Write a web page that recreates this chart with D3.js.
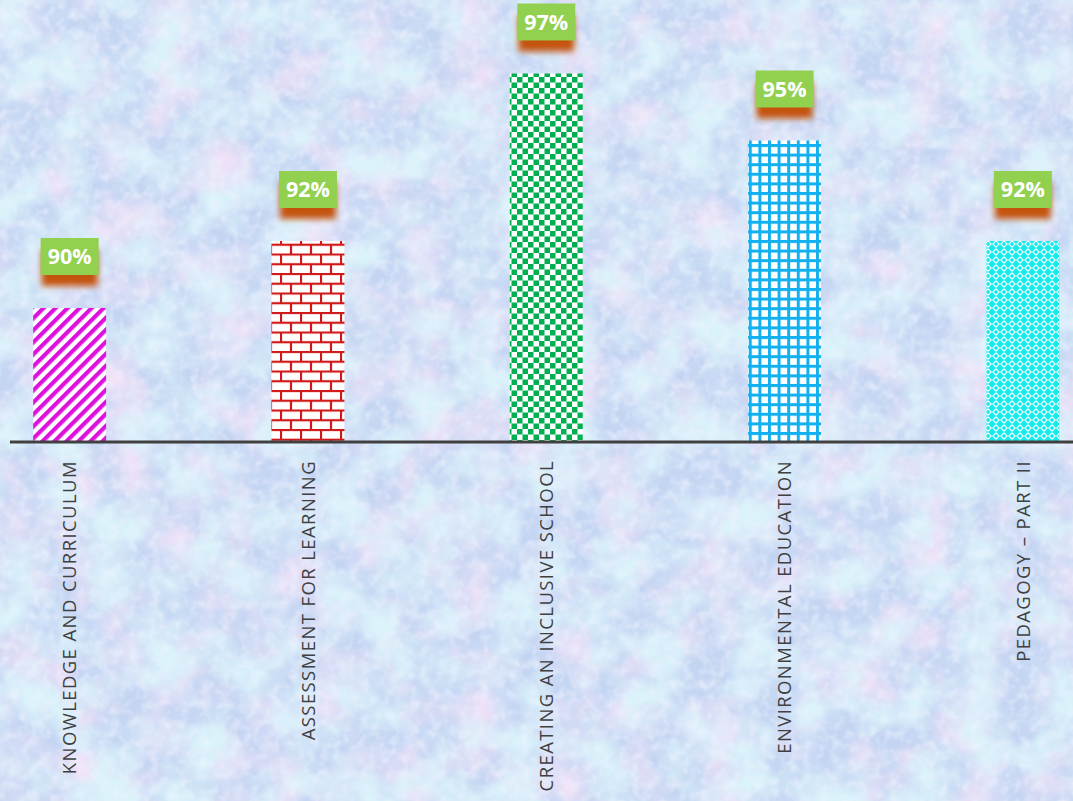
<!DOCTYPE html>
<html>
<head>
<meta charset="utf-8">
<script src="https://cdn.jsdelivr.net/npm/d3@7"></script>
<style>
  html, body { margin: 0; padding: 0; overflow: hidden; background: #c3d5f2; }
  svg { display: block; }
</style>
</head>
<body>
<div id="chart"></div>
<script>
// chart data
const categories = [
  "KNOWLEDGE AND CURRICULUM",
  "ASSESSMENT FOR LEARNING",
  "CREATING AN INCLUSIVE SCHOOL",
  "ENVIRONMENTAL EDUCATION",
  "PEDAGOGY \u2013 PART II"
];
const values = [90, 92, 97, 95, 92];
const valueLabels = ["90%", "92%", "97%", "95%", "92%"];
const patternIds = ["pStripe", "pBrick", "pCheck", "pGrid", "pDiamond"];

const width = 1073, height = 801;
const baseY = 442;

const svg = d3.select("#chart").append("svg")
  .attr("width", width)
  .attr("height", height);

const defs = svg.append("defs");

// --- background texture (pastel marble) ---
function noiseFilter(id, freq, oct, seed, r, g, b, a, off) {
  const f = defs.append("filter").attr("id", id)
    .attr("x", 0).attr("y", 0).attr("width", "100%").attr("height", "100%");
  f.append("feTurbulence")
    .attr("type", "fractalNoise")
    .attr("baseFrequency", freq)
    .attr("numOctaves", oct)
    .attr("seed", seed);
  f.append("feColorMatrix")
    .attr("type", "matrix")
    .attr("values", `0 0 0 0 ${r}  0 0 0 0 ${g}  0 0 0 0 ${b}  ${a} 0 0 0 ${off}`);
}
noiseFilter("nPink", 0.02, 3, 4, 0.88, 0.76, 0.94, 2.4, -1.0);
noiseFilter("nCyan", 0.022, 3, 11, 0.7, 0.89, 0.96, 2.6, -1.0);
noiseFilter("nBlue", 0.035, 3, 7, 0.64, 0.75, 0.95, 1.6, -0.7);
noiseFilter("nFine", 0.1, 2, 2, 0.86, 0.9, 0.99, 1.4, -0.6);

svg.append("rect").attr("width", width).attr("height", height).attr("fill", "#c4d5f2");
["nBlue", "nPink", "nCyan", "nFine"].forEach(id => {
  svg.append("rect").attr("width", width).attr("height", height)
    .attr("filter", `url(#${id})`);
});

// --- fill patterns ---
function pattern(id, w, h) {
  const p = defs.append("pattern").attr("id", id)
    .attr("patternUnits", "userSpaceOnUse")
    .attr("width", w).attr("height", h);
  p.append("rect").attr("width", w).attr("height", h).attr("fill", "#fff");
  return p;
}

// wide upward diagonal, magenta
const ps = pattern("pStripe", 8.5, 8.5).attr("patternTransform", "rotate(45)");
ps.append("rect").attr("width", 4.25).attr("height", 8.5).attr("fill", "#dd11dd");

// horizontal bricks, red
const pb = pattern("pBrick", 20, 19.5);
pb.selectAll("line.h").data([1, 10.75]).enter().append("line")
  .attr("x1", 0).attr("x2", 20).attr("y1", d => d).attr("y2", d => d)
  .attr("stroke", "#d01818").attr("stroke-width", 2.2);
pb.append("line").attr("x1", 1).attr("x2", 1).attr("y1", 1).attr("y2", 10.75)
  .attr("stroke", "#d01818").attr("stroke-width", 2.2);
pb.append("line").attr("x1", 11).attr("x2", 11).attr("y1", 10.75).attr("y2", 19.5)
  .attr("stroke", "#d01818").attr("stroke-width", 2.2);

// small checker board, green
const pc = pattern("pCheck", 11, 11);
pc.append("rect").attr("x", 0).attr("y", 0).attr("width", 5.5).attr("height", 5.5).attr("fill", "#00b050");
pc.append("rect").attr("x", 5.5).attr("y", 5.5).attr("width", 5.5).attr("height", 5.5).attr("fill", "#00b050");

// large grid, blue
const pg = pattern("pGrid", 9.6, 9.6);
pg.append("rect").attr("x", 0).attr("y", 0).attr("width", 3).attr("height", 9.6).attr("fill", "#12b0ee");
pg.append("rect").attr("x", 0).attr("y", 0).attr("width", 9.6).attr("height", 3).attr("fill", "#12b0ee");

// dotted diamond, cyan
const pd = defs.append("pattern").attr("id", "pDiamond")
  .attr("patternUnits", "userSpaceOnUse").attr("width", 8).attr("height", 8);
pd.append("rect").attr("width", 8).attr("height", 8).attr("fill", "#14eaea");
pd.append("path").attr("d", "M4,0.8 L7.2,4 L4,7.2 L0.8,4 Z")
  .attr("fill", "none").attr("stroke", "#ffffff").attr("stroke-width", 1.1);

// label shadow
const sh = defs.append("filter").attr("id", "labelShadow")
  .attr("x", "-30%").attr("y", "-30%").attr("width", "160%").attr("height", "180%");
sh.append("feGaussianBlur").attr("stdDeviation", 3);

// --- scales ---
const x = d3.scaleBand()
  .domain(categories)
  .range([-49.5, 1142])
  .paddingInner(0.694)
  .paddingOuter(0.347);

const y = d3.scaleLinear()
  .domain([86, 100])
  .range([baseY, -27]);

const data = categories.map((c, i) => ({
  cat: c, value: values[i], label: valueLabels[i], pat: patternIds[i]
}));

// bars
svg.append("g").selectAll("rect")
  .data(data)
  .enter().append("rect")
  .attr("x", d => x(d.cat))
  .attr("y", d => y(d.value))
  .attr("width", x.bandwidth())
  .attr("height", d => y.range()[0] - y(d.value))
  .attr("fill", d => `url(#${d.pat})`);

// axis line
const axis = d3.axisBottom(x).tickSize(0).tickFormat("");
const gx = svg.append("g").attr("transform", `translate(0,${baseY})`).call(axis);
gx.select(".domain")
  .attr("d", `M10,0H${width}`)
  .attr("stroke", "#404040")
  .attr("stroke-width", 3);

// category labels
svg.append("g").selectAll("text")
  .data(data)
  .enter().append("text")
  .attr("transform", d => `translate(${x(d.cat) + x.bandwidth() / 2},460) rotate(-90)`)
  .attr("dy", "0.36em")
  .attr("text-anchor", "end")
  .attr("font-family", "'Open Sans', sans-serif")
  .attr("font-size", 18.5)
  .attr("letter-spacing", 1.4)
  .attr("fill", "#404040")
  .text(d => d.cat);

// value labels
const boxW = 58, boxH = 37, gap = 33;
const lbl = svg.append("g").selectAll("g")
  .data(data)
  .enter().append("g")
  .attr("transform", d => `translate(${x(d.cat) + x.bandwidth() / 2 - boxW / 2},${y(d.value) - gap - boxH})`);

lbl.append("rect")
  .attr("x", 1)
  .attr("y", 11)
  .attr("width", boxW - 2)
  .attr("height", boxH)
  .attr("fill", "#c4520c")
  .attr("filter", "url(#labelShadow)");

lbl.append("rect")
  .attr("width", boxW)
  .attr("height", boxH)
  .attr("fill", "#92d050");

lbl.append("text")
  .attr("x", boxW / 2)
  .attr("y", boxH / 2)
  .attr("dy", "0.36em")
  .attr("text-anchor", "middle")
  .attr("font-family", "'Open Sans', sans-serif")
  .attr("font-weight", "bold")
  .attr("font-size", 21.5)
  .attr("fill", "#ffffff")
  .text(d => d.label);
</script>
</body>
</html>
